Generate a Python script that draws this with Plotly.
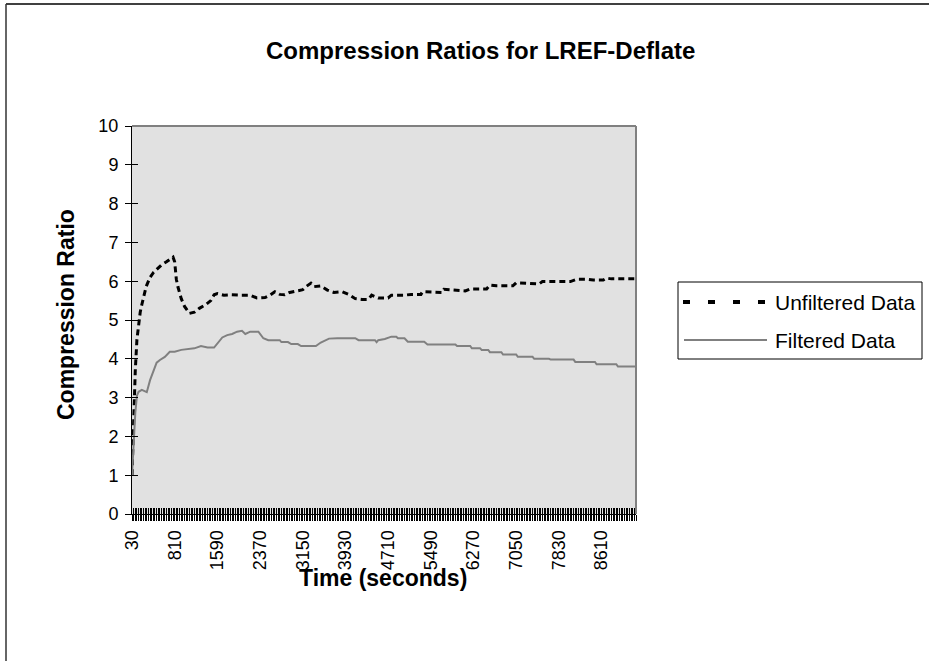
import plotly.graph_objects as go

# ---- data ----
unf_time = [30, 60, 90, 120, 150, 180, 210, 240, 270, 300, 360, 420, 480, 570, 660, 720, 780, 810,
            840, 870, 930, 990, 1080, 1170, 1260, 1380, 1470, 1530, 1590, 1710, 1830, 2010, 2190,
            2310, 2460, 2550, 2640, 2730, 2820, 2910, 3060, 3150, 3210, 3300, 3360, 3480, 3600,
            3720, 3870, 3990, 4110, 4230, 4350, 4410, 4530, 4710, 4770, 5010, 5130, 5310, 5340,
            5700, 5730, 6120, 6210, 6510, 6570, 6690, 6990, 7050, 7470, 7530, 8040, 8160, 8340,
            8460, 8640, 8700, 8790, 9240]
unf_ratio = [1.0, 2.6, 3.7, 4.5, 4.95, 5.2, 5.4, 5.6, 5.75, 5.9, 6.1, 6.22, 6.3, 6.42, 6.5, 6.55, 6.62,
             6.5, 6.05, 5.85, 5.55, 5.35, 5.17, 5.2, 5.3, 5.4, 5.5, 5.65, 5.68, 5.64, 5.65, 5.64,
             5.64, 5.57, 5.58, 5.64, 5.73, 5.66, 5.65, 5.71, 5.75, 5.78, 5.86, 5.95, 5.86, 5.88,
             5.77, 5.71, 5.73, 5.66, 5.55, 5.53, 5.53, 5.64, 5.57, 5.57, 5.64, 5.64, 5.66, 5.66,
             5.73, 5.71, 5.79, 5.75, 5.80, 5.80, 5.90, 5.88, 5.88, 5.96, 5.93, 5.99, 5.99, 6.05,
             6.05, 6.03, 6.03, 6.08, 6.06, 6.06]

fil_time = [30, 60, 90, 120, 150, 210, 270, 300, 360, 420, 480, 540, 630, 720, 810, 930, 1050, 1170,
            1290, 1410, 1530, 1620, 1680, 1770, 1860, 1950, 2040, 2100, 2190, 2340, 2430, 2520,
            2730, 2760, 2880, 2940, 3060, 3120, 3390, 3480, 3570, 3630, 3780, 4110, 4170, 4470,
            4500, 4530, 4650, 4770, 4860, 4890, 5010, 5070, 5370, 5430, 5940, 5970, 6210, 6240,
            6390, 6420, 6540, 6570, 6780, 6810, 7050, 7080, 7350, 7380, 7650, 7680, 8100, 8130,
            8490, 8520, 8880, 8910, 9240]
fil_ratio = [1.0, 1.9, 2.6, 3.05, 3.15, 3.2, 3.15, 3.14, 3.45, 3.7, 3.9, 3.97, 4.05, 4.18, 4.18, 4.23,
             4.25, 4.27, 4.33, 4.29, 4.29, 4.45, 4.55, 4.61, 4.64, 4.70, 4.72, 4.64, 4.70, 4.70,
             4.53, 4.48, 4.48, 4.43, 4.43, 4.38, 4.38, 4.33, 4.33, 4.42, 4.48, 4.52, 4.53, 4.53,
             4.48, 4.48, 4.43, 4.48, 4.51, 4.57, 4.57, 4.53, 4.53, 4.44, 4.44, 4.37, 4.37, 4.33,
             4.33, 4.27, 4.27, 4.23, 4.23, 4.17, 4.17, 4.11, 4.11, 4.05, 4.05, 4.00, 4.00, 3.98,
             3.98, 3.92, 3.92, 3.86, 3.86, 3.80, 3.80]

x_tick_vals = [30, 810, 1590, 2370, 3150, 3930, 4710, 5490, 6270, 7050, 7830, 8610]
x_tick_text = [str(v) for v in x_tick_vals]
y_tick_vals = [0, 1, 2, 3, 4, 5, 6, 7, 8, 9, 10]
x_first, x_last, x_step = 30, 9240, 30

title_text = "Compression Ratios for LREF-Deflate"
x_title = "Time (seconds)"
y_title = "Compression Ratio"
series_names = ["Unfiltered Data", "Filtered Data"]

FONT = "Liberation Sans, Arial, sans-serif"
W, H = 929, 661
L, R, T, B = 132, 293, 126, 147
PW, PH = W - L - R, H - T - B


def px_x(p):
    return (p - L) / PW


def px_y(p):
    return (H - B - p) / PH


fig = go.Figure()
fig.add_trace(go.Scatter(x=unf_time, y=unf_ratio, mode="lines", name=series_names[0],
                         line=dict(color="black", width=3, dash="6px,4px"),
                         showlegend=False, xaxis="x", yaxis="y"))
fig.add_trace(go.Scatter(x=fil_time, y=fil_ratio, mode="lines", name=series_names[1],
                         line=dict(color="#808080", width=2),
                         showlegend=False, xaxis="x2", yaxis="y2"))

tick_font = dict(family=FONT, size=18, color="black")

fig.update_layout(
    width=W, height=H, autosize=False,
    margin=dict(l=L, r=R, t=T, b=B, pad=0),
    paper_bgcolor="white", plot_bgcolor="#E1E1E1",
    font=dict(family=FONT, color="black"),
    showlegend=False,
    xaxis=dict(range=[x_first, x_last], tickmode="array", tickvals=x_tick_vals,
               ticktext=x_tick_text, tickangle=-90, ticks="outside", ticklen=6,
               tickcolor="black", tickwidth=1, tickfont=tick_font, ticklabelstandoff=2,
               showline=True, linecolor="black", linewidth=1, showgrid=False,
               zeroline=False,
               minor=dict(tickmode="linear", tick0=x_first, dtick=x_step, ticks="outside",
                          ticklen=6, tickcolor="black", tickwidth=1, showgrid=False)),
    yaxis=dict(range=[0, 10], tickmode="array", tickvals=y_tick_vals, ticks="outside",
               ticklen=6, tickcolor="black", tickwidth=1, tickfont=tick_font,
               ticklabelstandoff=3,
               showline=True, linecolor="black", linewidth=1, showgrid=False,
               zeroline=False),
    xaxis2=dict(overlaying="x", matches="x", anchor="y2", side="bottom",
                showticklabels=False, ticks="inside", ticklen=6, tickcolor="black",
                tickmode="array", tickvals=x_tick_vals,
                showline=False, showgrid=False, zeroline=False,
                minor=dict(tickmode="linear", tick0=x_first, dtick=x_step, ticks="inside",
                           ticklen=6, tickcolor="black", tickwidth=1, showgrid=False)),
    yaxis2=dict(overlaying="y", matches="y", anchor="x2", side="left",
                showticklabels=False, ticks="inside", ticklen=6, tickcolor="black",
                tickmode="array", tickvals=y_tick_vals,
                showline=False, showgrid=False, zeroline=False),
)

shapes = []
# plot-area top and right borders (gray)
shapes.append(dict(type="line", xref="paper", yref="paper", x0=0, x1=1, y0=1, y1=1,
                   line=dict(color="#808080", width=2)))
shapes.append(dict(type="line", xref="paper", yref="paper", x0=1, x1=1, y0=0, y1=1,
                   line=dict(color="#808080", width=2)))
# outer chart frame (top and left edges)
shapes.append(dict(type="line", xref="paper", yref="paper", x0=px_x(6), x1=px_x(940),
                   y0=px_y(4), y1=px_y(4), line=dict(color="black", width=1.5)))
shapes.append(dict(type="line", xref="paper", yref="paper", x0=px_x(6), x1=px_x(6),
                   y0=px_y(4), y1=px_y(670), line=dict(color="#333333", width=1.5)))
# legend box
shapes.append(dict(type="rect", xref="paper", yref="paper", x0=px_x(678), x1=px_x(922),
                   y0=px_y(359), y1=px_y(282), line=dict(color="black", width=1),
                   fillcolor="white"))
shapes.append(dict(type="line", xref="paper", yref="paper", x0=px_x(683), x1=px_x(765),
                   y0=px_y(302), y1=px_y(302),
                   line=dict(color="black", width=4, dash="7px,18px")))
shapes.append(dict(type="line", xref="paper", yref="paper", x0=px_x(684), x1=px_x(767),
                   y0=px_y(340), y1=px_y(340), line=dict(color="#808080", width=2)))
fig.update_layout(shapes=shapes)

ann = []
ann.append(dict(text="<b>" + title_text + "</b>", xref="paper", yref="paper",
                x=px_x(480), y=px_y(50), showarrow=False, xanchor="center", yanchor="middle",
                font=dict(family=FONT, size=24, color="black")))
ann.append(dict(text="<b>" + y_title + "</b>", xref="paper", yref="paper",
                x=px_x(66), y=px_y(315), showarrow=False, textangle=-90,
                xanchor="center", yanchor="middle",
                font=dict(family=FONT, size=23, color="black")))
ann.append(dict(text="<b>" + x_title + "</b>", xref="paper", yref="paper",
                x=px_x(383), y=px_y(578), showarrow=False,
                xanchor="center", yanchor="middle",
                font=dict(family=FONT, size=23, color="black")))
ann.append(dict(text=series_names[0], xref="paper", yref="paper",
                x=px_x(773), y=px_y(302), showarrow=False, xanchor="left", yanchor="middle",
                font=dict(family=FONT, size=21, color="black")))
ann.append(dict(text=series_names[1], xref="paper", yref="paper",
                x=px_x(773), y=px_y(340), showarrow=False, xanchor="left", yanchor="middle",
                font=dict(family=FONT, size=21, color="black")))
fig.update_layout(annotations=ann)

fig.write_html("out.html")
